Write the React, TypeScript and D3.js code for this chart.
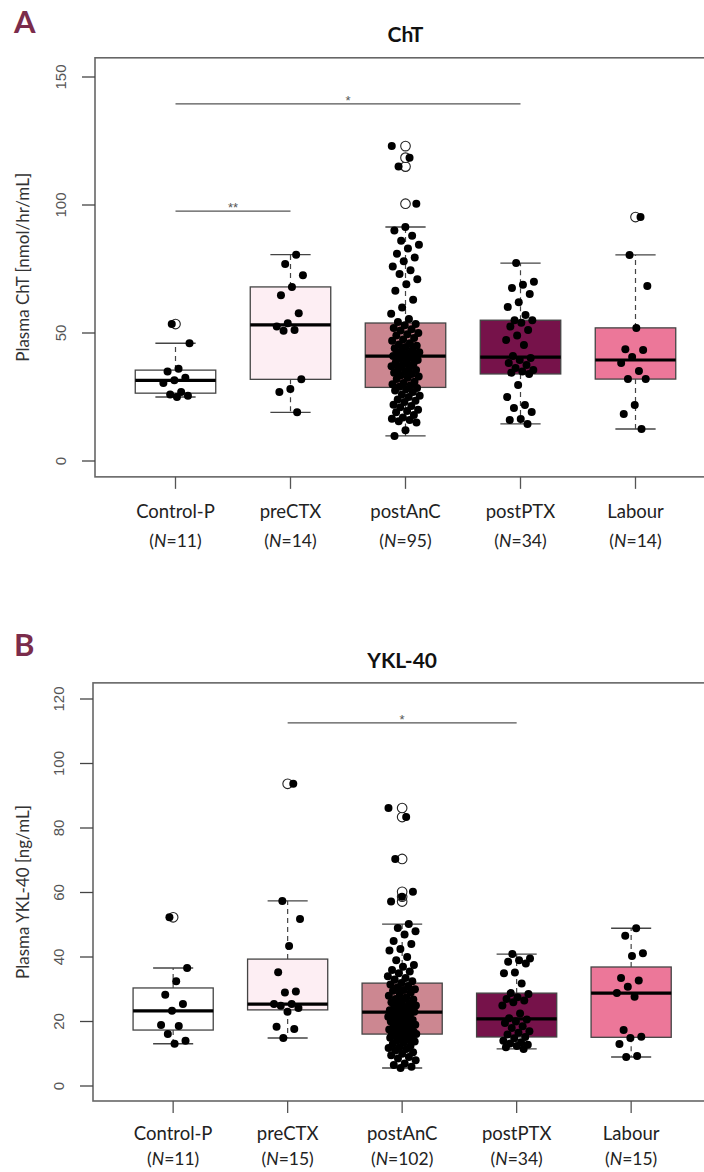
import React from "react";
import * as d3 from "d3";

const groups = ["Control-P", "preCTX", "postAnC", "postPTX", "Labour"];
const groupFills = ["#ffffff", "#fdeef3", "#cc8791", "#76124a", "#ec7799"];

// panel A, plasma ChT (nmol/hr/mL)
const chtControlP = [53.5, 46, 36, 35, 32.5, 31.5, 30.5, 27, 26, 25.5, 25];
const chtPreCTX = [80.6, 77, 72.6, 68, 64.7, 57.7, 53.8, 52.5, 51.2, 50.9, 31.9, 28.1, 27, 19];
const chtPostAnC = [
  123, 118.5, 115, 100.5,
  91.4, 90, 88, 86, 84.5, 83, 81, 79.5, 78, 76, 74.5, 73, 71, 69, 66.5, 63, 60, 57.5, 55.5,
  54.3,
  53.5, 53, 52, 51.5, 51, 50, 49.5, 49, 48, 47.5, 47, 46, 45.5, 45, 44.5, 44, 43.5, 43, 42.5, 42, 41.8, 41.5, 41.2,
  41,
  40.5, 40, 39.5, 39, 38.5, 38, 37.5, 37, 36.5, 36, 35.5, 35, 34.5, 34, 33.5, 33, 32.5, 32, 31, 30.5, 30, 29.5, 29,
  28.5,
  28, 27.5, 27, 26, 25.5, 25, 24, 23.5, 23, 22, 21.5, 21, 20, 19.5, 19, 18, 17, 16.5, 16, 15.5, 15, 12, 9.8,
];
const chtPostPTX = [
  77.3, 70, 68.8, 67.6, 65.2, 62, 60.2, 57, 55, 55, 54, 52.5, 51.2, 49, 47.3, 45.3, 41, 40.2,
  39.5, 38.3, 37.5, 36.3, 35.5, 35, 34.5, 34, 29.7, 25, 21.9, 20.7, 19.1, 16.4, 16, 14.5,
];
const chtLabour = [95.3, 80.5, 68.4, 52, 43.7, 43.4, 40.6, 38.3, 35.2, 32, 32, 21.9, 18.4, 12.5];
const chtTicks = [0, 50, 100, 150];

// panel B, plasma YKL-40 (ng/mL)
const yklControlP = [52.3, 36.6, 32.5, 28.3, 25.4, 23.3, 18.9, 18.6, 16.1, 14, 13.1];
const yklPreCTX = [93.7, 57.4, 51.8, 43.4, 35.3, 29.3, 29, 25.4, 25.4, 24.9, 24.2, 23, 18.4, 17.7, 14.9];
const yklPostAnC = [
  86.2, 83.4, 70.4, 60.2, 58.7, 57.2,
  50.2, 49, 48, 47, 45, 44, 42.5, 42, 40, 39, 37.5, 37, 36, 35.5, 35, 34, 33.5, 33, 32.5,
  31.9,
  31.5, 31, 30.5, 30, 29.8, 29.5, 29, 28.5, 28, 27.5, 27, 26.8, 26.5, 26, 25.5, 25.2, 25, 24.5, 24.2, 24, 23.8, 23.5, 23.3, 23.1,
  23, 22.8,
  22.5, 22.2, 22, 21.5, 21.2, 21, 20.5, 20.2, 20, 19.5, 19.2, 19, 18.6, 18.3, 18, 17.8, 17.5, 17.3, 17, 16.8, 16.6, 16.5, 16.3, 16.2,
  16.1,
  16, 15.8, 15.5, 15.2, 15, 14.5, 14, 13.8, 13.5, 13, 12.5, 12, 11.8, 11.5, 11, 10.5, 10, 9.5, 9, 8.5, 8, 7, 6.5, 6, 5.6,
];
const yklPostPTX = [
  40.9, 39.5, 39, 38.5, 38, 35.2, 35, 31.8, 28.8, 28.5, 27.5, 27, 26.5, 26, 25, 22.5, 21, 20.6,
  20, 19.5, 18.5, 18, 17, 16.5, 16, 15.2, 14.8, 14, 13.6, 13.2, 12.8, 12.4, 12, 11.5,
];
const yklLabour = [48.9, 46.6, 41.2, 40.3, 33.5, 32.7, 30.8, 28.8, 27.7, 17.4, 15.3, 14.9, 13, 9.3, 9];
const yklTicks = [0, 20, 40, 60, 80, 100, 120];

const chtSig = [
  { from: 0, to: 1, at: 97.6, label: "**" },
  { from: 0, to: 3, at: 139.5, label: "*" },
];
const yklSig = [{ from: 1, to: 3, at: 112.6, label: "*" }];

const textFont = "Lato, 'Open Sans', sans-serif";
const tickFont = "'Liberation Sans', Arial, sans-serif";

// R-style boxplot stats (fivenum hinges, 1.5 IQR whiskers)
function boxStats(values: number[]) {
  const s = [...values].sort(d3.ascending);
  const n = s.length;
  const n4 = Math.floor((n + 3) / 2) / 2;
  const at = (p: number) => 0.5 * (s[Math.floor(p) - 1] + s[Math.ceil(p) - 1]);
  const lower = at(n4);
  const med = at((n + 1) / 2);
  const upper = at(n + 1 - n4);
  const iqr = upper - lower;
  const ok = (v: number) => v >= lower - 1.5 * iqr && v <= upper + 1.5 * iqr;
  const inside = s.filter(ok);
  return { lower, med, upper, lo: d3.min(inside)!, hi: d3.max(inside)!, out: s.filter((v) => !ok(v)) };
}

function jitter(i: number) {
  const f = (i * 0.618034 + 0.37) % 1;
  return (f - 0.5) * 2;
}

type PanelProps = {
  letter: string;
  title: string;
  yLabel: string;
  series: number[][];
  ticks: number[];
  sig: { from: number; to: number; at: number; label: string }[];
  yDomain: [number, number];
  yRange: [number, number];
  frame: [number, number];
  xRange: [number, number];
  letterY: number;
  titleY: number;
  labelY: number;
  nGap: number;
};

function Panel(p: PanelProps) {
  const x = d3.scaleLinear().domain([0.3, 5.7]).range(p.xRange);
  const y = d3.scaleLinear().domain(p.yDomain).range(p.yRange);
  const unit = x(2) - x(1);
  const halfBox = unit * 0.35;
  const halfCap = halfBox / 2;
  const jit = unit * 0.125;
  const [fy0, fy1] = p.frame;
  const left = p.xRange[0];
  const right = p.xRange[1];
  const midY = (y(fy0) + y(fy1)) / 2;

  return (
    <g>
      <text x={14} y={p.letterY} fontFamily={textFont} fontWeight={700} fontSize={31} fill="#7b2c4b">
        {p.letter}
      </text>
      <text x={(left + right) / 2} y={p.titleY} textAnchor="middle" fontFamily={textFont} fontWeight={700} fontSize={21} fill="#111">
        {p.title}
      </text>
      <rect x={left} y={y(fy1)} width={right - left} height={y(fy0) - y(fy1)} fill="none" stroke="#666" strokeWidth={1.6} />

      {/* y axis */}
      {p.ticks.map((t) => (
        <g key={t}>
          <line x1={left - 13} x2={left} y1={y(t)} y2={y(t)} stroke="#444" strokeWidth={1.3} />
          <text
            transform={`translate(${left - 35},${y(t)}) rotate(-90)`}
            textAnchor="middle"
            dominantBaseline="central"
            fontFamily={tickFont}
            fontSize={15}
            fill="#555"
          >
            {t}
          </text>
        </g>
      ))}
      <text
        transform={`translate(22,${midY}) rotate(-90)`}
        textAnchor="middle"
        dominantBaseline="central"
        fontFamily={textFont}
        fontSize={17}
        fill="#333"
      >
        {p.yLabel}
      </text>

      {/* x axis labels */}
      {groups.map((g, i) => (
        <g key={g}>
          <line x1={x(i + 1)} x2={x(i + 1)} y1={y(fy0)} y2={y(fy0) + 12} stroke="#555" strokeWidth={1.3} />
          <text x={x(i + 1)} y={p.labelY} textAnchor="middle" dominantBaseline="central" fontFamily={textFont} fontSize={18.5} fill="#222">
            {g}
          </text>
          <text x={x(i + 1)} y={p.labelY + p.nGap} textAnchor="middle" dominantBaseline="central" fontFamily={textFont} fontSize={17.5} fill="#222">
            (<tspan fontStyle="italic">N</tspan>={p.series[i].length})
          </text>
        </g>
      ))}

      {/* boxes */}
      {p.series.map((vals, i) => {
        const s = boxStats(vals);
        const cx = x(i + 1);
        return (
          <g key={i}>
            <line x1={cx} x2={cx} y1={y(s.upper)} y2={y(s.hi)} stroke="#444" strokeWidth={1.2} strokeDasharray="5,4" />
            <line x1={cx} x2={cx} y1={y(s.lower)} y2={y(s.lo)} stroke="#444" strokeWidth={1.2} strokeDasharray="5,4" />
            <line x1={cx - halfCap} x2={cx + halfCap} y1={y(s.hi)} y2={y(s.hi)} stroke="#444" strokeWidth={1.4} />
            <line x1={cx - halfCap} x2={cx + halfCap} y1={y(s.lo)} y2={y(s.lo)} stroke="#444" strokeWidth={1.4} />
            <rect
              x={cx - halfBox}
              y={y(s.upper)}
              width={halfBox * 2}
              height={y(s.lower) - y(s.upper)}
              fill={groupFills[i]}
              stroke="#444"
              strokeWidth={1.3}
            />
            <line x1={cx - halfBox} x2={cx + halfBox} y1={y(s.med)} y2={y(s.med)} stroke="#000" strokeWidth={3.2} />
            {s.out.map((v, k) => (
              <circle key={k} cx={cx} cy={y(v)} r={4.8} fill="#fff" stroke="#222" strokeWidth={1.1} />
            ))}
            {vals.map((v, k) => (
              <circle key={`p${k}`} cx={cx + jitter(k + i * 7) * jit} cy={y(v)} r={4} fill="#000" />
            ))}
          </g>
        );
      })}

      {/* significance bars */}
      {p.sig.map((b, k) => (
        <g key={k}>
          <line x1={x(b.from + 1)} x2={x(b.to + 1)} y1={y(b.at)} y2={y(b.at)} stroke="#555" strokeWidth={1.3} />
          <text
            x={(x(b.from + 1) + x(b.to + 1)) / 2}
            y={y(b.at) + 1}
            textAnchor="middle"
            fontFamily={tickFont}
            fontSize={13}
            fill="#555"
          >
            {b.label}
          </text>
        </g>
      ))}
    </g>
  );
}

export default function App() {
  return (
    <svg width={704} height={1172} style={{ position: "absolute", left: 0, top: 0, background: "#fff" }}>
      <Panel
        letter="A"
        title="ChT"
        yLabel="Plasma ChT [nmol/hr/mL]"
        series={[chtControlP, chtPreCTX, chtPostAnC, chtPostPTX, chtLabour]}
        ticks={chtTicks}
        sig={chtSig}
        yDomain={[0, 150]}
        yRange={[461, 77]}
        frame={[-6.2, 157.5]}
        xRange={[95, 716]}
        letterY={33}
        titleY={42}
        labelY={511}
        nGap={29}
      />
      <Panel
        letter="B"
        title="YKL-40"
        yLabel="Plasma YKL-40 [ng/mL]"
        series={[yklControlP, yklPreCTX, yklPostAnC, yklPostPTX, yklLabour]}
        ticks={yklTicks}
        sig={yklSig}
        yDomain={[0, 120]}
        yRange={[1086, 699]}
        frame={[-4.65, 125]}
        xRange={[93, 711.3]}
        letterY={656}
        titleY={668}
        labelY={1133}
        nGap={25}
      />
    </svg>
  );
}
